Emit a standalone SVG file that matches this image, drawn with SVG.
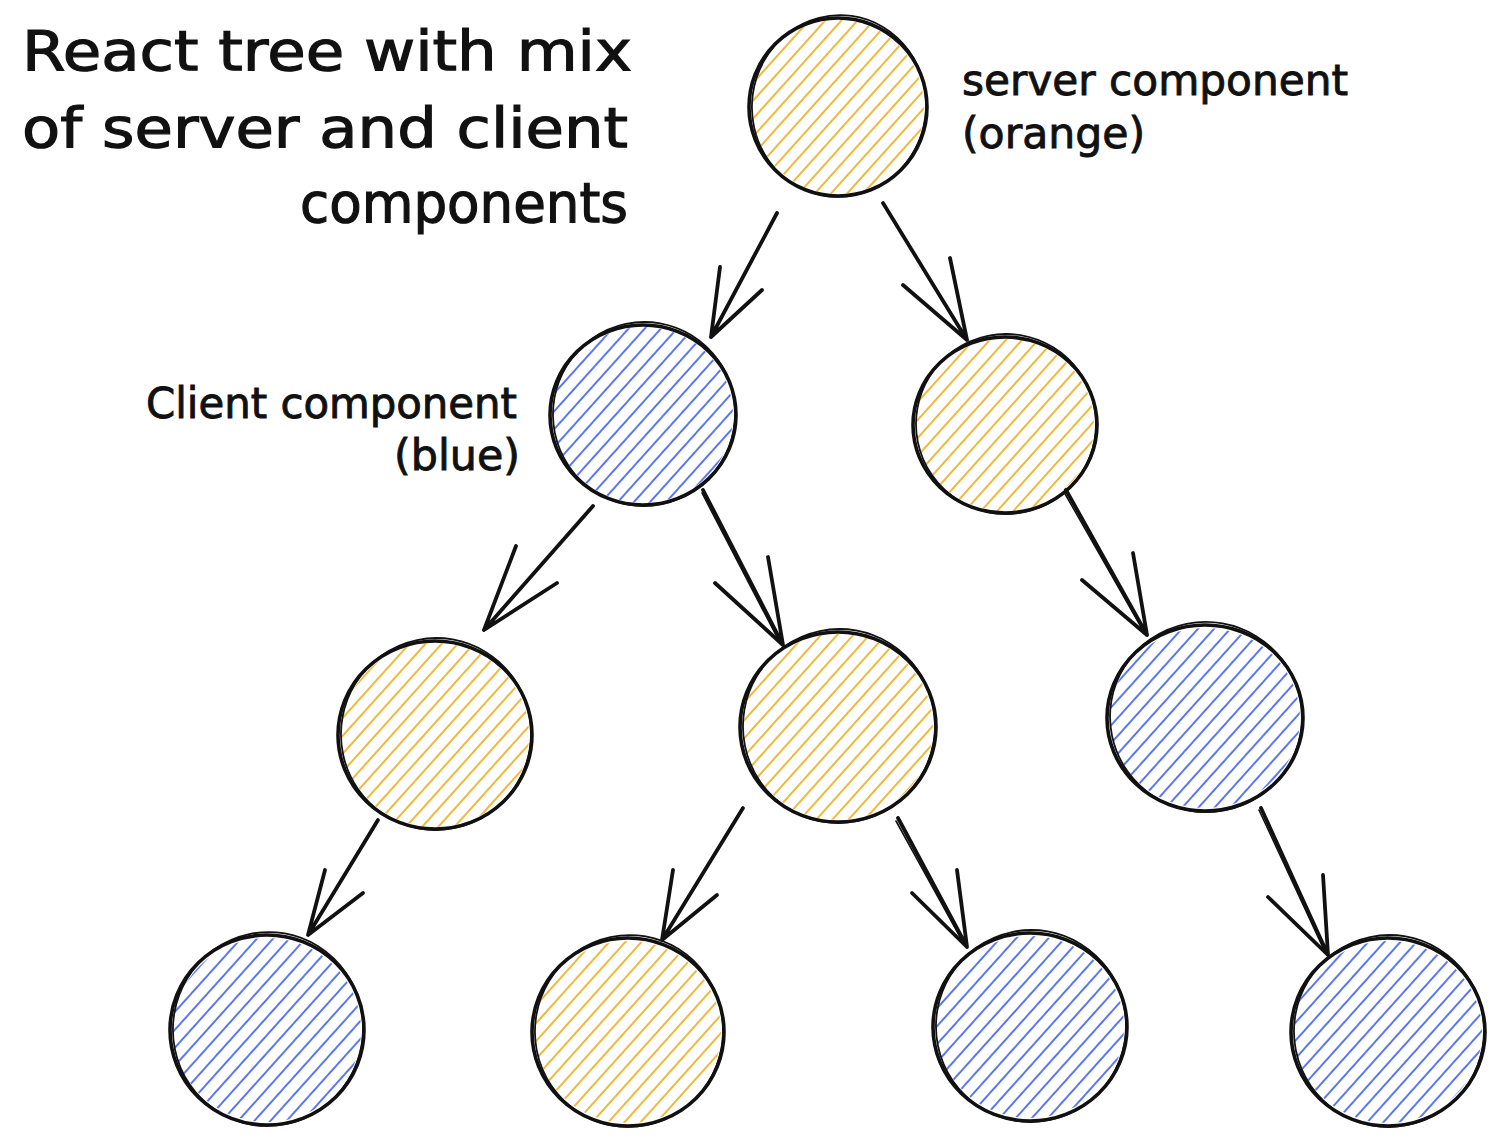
<svg xmlns="http://www.w3.org/2000/svg" width="1496" height="1138" viewBox="0 0 1496 1138">
<defs>
<pattern id="hOrange" patternUnits="userSpaceOnUse" width="12" height="12" patternTransform="rotate(42)">
<line x1="3" y1="-1" x2="3" y2="13" stroke="#f0b93a" stroke-width="2"/>
</pattern>
<pattern id="hBlue" patternUnits="userSpaceOnUse" width="12" height="12" patternTransform="rotate(42)">
<line x1="3" y1="-1" x2="3" y2="13" stroke="#5b78f0" stroke-width="2"/>
</pattern>
</defs>
<style>
.orange{fill:url(#hOrange);}
.blue{fill:url(#hBlue);}
.ol{fill:none;stroke:#111;stroke-width:3.6;}
.ol2{fill:none;stroke:#111;stroke-width:1.8;}
.arr{fill:none;stroke:#111;stroke-width:3.8;stroke-linecap:round;stroke-linejoin:round;}
.arr2{fill:none;stroke:#111;stroke-width:1.6;stroke-linecap:round;}
.title{font-family:"DejaVu Sans",sans-serif;font-size:56px;fill:#111;stroke:#111;stroke-width:1.2;}
.lbl{font-family:"DejaVu Sans",sans-serif;font-size:42px;fill:#111;stroke:#111;stroke-width:0.9;}
</style>
<rect width="1496" height="1138" fill="#ffffff"/>

<g id="title">
<text class="title" x="22" y="70" textLength="610" lengthAdjust="spacingAndGlyphs">React tree with mix</text>
<text class="title" x="22" y="147" textLength="606" lengthAdjust="spacingAndGlyphs">of server and client</text>
<text class="title" x="300" y="222" textLength="328" lengthAdjust="spacingAndGlyphs">components</text>
</g>
<g id="label-server">
<text class="lbl" x="962" y="95" textLength="386" lengthAdjust="spacingAndGlyphs">server component</text>
<text class="lbl" x="962" y="148" textLength="183" lengthAdjust="spacingAndGlyphs">(orange)</text>
</g>
<g id="label-client">
<text class="lbl" x="146" y="418" textLength="371" lengthAdjust="spacingAndGlyphs">Client component</text>
<text class="lbl" x="394" y="470" textLength="126" lengthAdjust="spacingAndGlyphs">(blue)</text>
</g>

<g id="node-1">
<ellipse class="orange" cx="838" cy="107" rx="86" ry="87"/>
<ellipse class="ol" cx="838" cy="107" rx="89" ry="89"/>
<ellipse class="ol2" cx="839" cy="106" rx="87" ry="91" transform="rotate(8 839 106)"/>
</g>
<g id="node-2">
<ellipse class="blue" cx="643" cy="415" rx="90" ry="88"/>
<ellipse class="ol" cx="643" cy="415" rx="93" ry="90"/>
<ellipse class="ol2" cx="644" cy="414" rx="91" ry="92" transform="rotate(10 644 414)"/>
</g>
<g id="node-3">
<ellipse class="orange" cx="1005" cy="425" rx="89" ry="86"/>
<ellipse class="ol" cx="1005" cy="425" rx="92" ry="88"/>
<ellipse class="ol2" cx="1006" cy="424" rx="90" ry="90" transform="rotate(10 1006 424)"/>
</g>
<g id="node-4">
<ellipse class="orange" cx="435" cy="735" rx="94" ry="92"/>
<ellipse class="ol" cx="435" cy="735" rx="97" ry="94"/>
<ellipse class="ol2" cx="436" cy="734" rx="95" ry="96" transform="rotate(10 436 734)"/>
</g>
<g id="node-5">
<ellipse class="orange" cx="838" cy="727" rx="95" ry="93"/>
<ellipse class="ol" cx="838" cy="727" rx="98" ry="95"/>
<ellipse class="ol2" cx="839" cy="726" rx="96" ry="97" transform="rotate(10 839 726)"/>
</g>
<g id="node-6">
<ellipse class="blue" cx="1205" cy="718" rx="95" ry="90"/>
<ellipse class="ol" cx="1205" cy="718" rx="98" ry="93"/>
<ellipse class="ol2" cx="1206" cy="717" rx="96" ry="95" transform="rotate(10 1206 717)"/>
</g>
<g id="node-7">
<ellipse class="blue" cx="267" cy="1030" rx="94" ry="92"/>
<ellipse class="ol" cx="267" cy="1030" rx="97" ry="95"/>
<ellipse class="ol2" cx="268" cy="1029" rx="95" ry="97" transform="rotate(10 268 1029)"/>
</g>
<g id="node-8">
<ellipse class="orange" cx="628" cy="1032" rx="93" ry="91"/>
<ellipse class="ol" cx="628" cy="1032" rx="96" ry="94"/>
<ellipse class="ol2" cx="629" cy="1031" rx="94" ry="96" transform="rotate(10 629 1031)"/>
</g>
<g id="node-9">
<ellipse class="blue" cx="1030" cy="1027" rx="94" ry="91"/>
<ellipse class="ol" cx="1030" cy="1027" rx="97" ry="94"/>
<ellipse class="ol2" cx="1031" cy="1026" rx="95" ry="96" transform="rotate(10 1031 1026)"/>
</g>
<g id="node-10">
<ellipse class="blue" cx="1388" cy="1032" rx="94" ry="91"/>
<ellipse class="ol" cx="1388" cy="1032" rx="97" ry="94"/>
<ellipse class="ol2" cx="1389" cy="1031" rx="95" ry="96" transform="rotate(10 1389 1031)"/>
</g>

<g id="connectors">
<path class="arr" d="M777 213 L711 337 M720 267 L711 337 L762 290"/>
<path class="arr" d="M883 203 L967 340 M950 258 L967 340 L903 285"/>
<path class="arr" d="M593 506 L484 630 M516 546 L484 630 L557 583"/>
<path class="arr" d="M703 490 L783 645 M768 557 L783 645 L715 583"/>
<path class="arr" d="M1066 490 L1147 635 M1133 553 L1147 635 L1082 580"/>
<path class="arr" d="M378 820 L308 935 M325 870 L308 935 L363 893"/>
<path class="arr" d="M743 808 L662 940 M673 870 L662 940 L717 895"/>
<path class="arr" d="M898 818 L967 947 M957 870 L967 947 L912 893"/>
<path class="arr" d="M1261 808 L1328 955 M1323 875 L1328 955 L1268 897"/>
<path class="arr2" d="M775 216 L713 333 M702 493 L779 641 M1064 492 L1144 632 M896 821 L964 944 M1259 810 L1325 952"/>
</g>
</svg>
